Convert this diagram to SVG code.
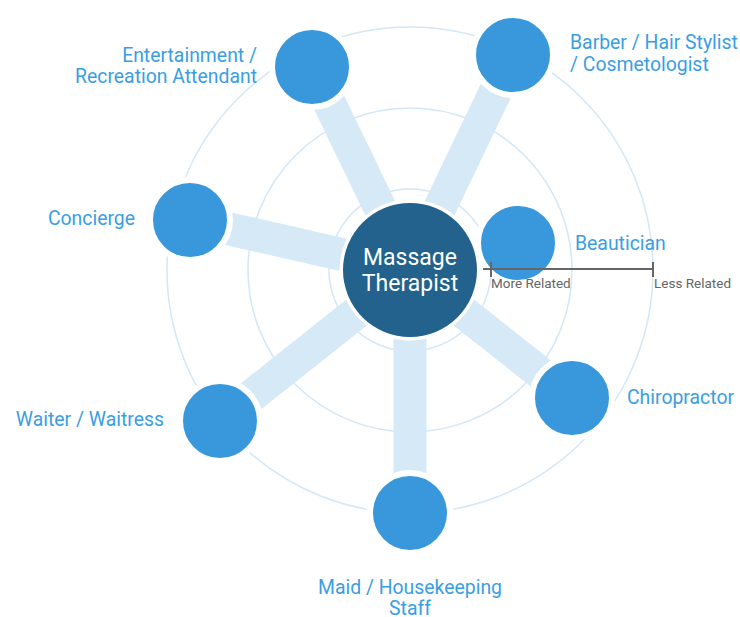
<svg xmlns="http://www.w3.org/2000/svg" width="740" height="617" viewBox="0 0 740 617">
<style>
.ring{fill:none;stroke:#d3e7f7;stroke-width:1.5}
.bar{stroke:#d6e9f7;stroke-width:33;stroke-linecap:butt}
.node{fill:#3898db;stroke:#fff;stroke-width:6}
.lbl{font-family:Roboto,"Liberation Sans",sans-serif;font-size:19.4px;fill:#3a9ee2}
.ctr{font-family:Roboto,"Liberation Sans",sans-serif;font-size:23px;fill:#fff;text-anchor:middle}
.scale{font-family:Roboto,"Liberation Sans",sans-serif;font-size:13.5px;fill:#666}
</style>
<rect width="740" height="617" fill="#fff"/>
<g id="rings">
<circle class="ring" cx="410" cy="270" r="243"/>
<circle class="ring" cx="410" cy="270" r="162"/>
<circle class="ring" cx="410" cy="270" r="81"/>
</g>
<g id="connectors">
<line class="bar" x1="410" y1="270" x2="312" y2="67"/>
<line class="bar" x1="410" y1="270" x2="513" y2="55"/>
<line class="bar" x1="410" y1="270" x2="190" y2="220"/>
<line class="bar" x1="410" y1="270" x2="572" y2="398"/>
<line class="bar" x1="410" y1="270" x2="410" y2="513"/>
<line class="bar" x1="410" y1="270" x2="220" y2="421"/>
</g>
<g id="center">
<circle cx="410" cy="270" r="70.5" fill="#fff"/>
<circle cx="410" cy="270" r="67" fill="#22628c"/>
<text class="ctr" x="410" y="265">Massage</text>
<text class="ctr" x="410" y="291">Therapist</text>
</g>
<g id="entertainment">
<circle class="node" cx="312" cy="67" r="40"/>
<text class="lbl" text-anchor="end" x="257" y="62">Entertainment /</text>
<text class="lbl" text-anchor="end" x="257" y="83">Recreation Attendant</text>
</g>
<g id="barber">
<circle class="node" cx="513" cy="55" r="40"/>
<text class="lbl" x="570" y="49">Barber / Hair Stylist</text>
<text class="lbl" x="570" y="71">/ Cosmetologist</text>
</g>
<g id="concierge">
<circle class="node" cx="190" cy="220" r="40"/>
<text class="lbl" text-anchor="end" x="135" y="225">Concierge</text>
</g>
<g id="beautician">
<circle class="node" cx="518" cy="243" r="40"/>
<text class="lbl" x="575" y="250">Beautician</text>
</g>
<g id="chiropractor">
<circle class="node" cx="572" cy="398" r="40"/>
<text class="lbl" x="627" y="404">Chiropractor</text>
</g>
<g id="maid">
<circle class="node" cx="410" cy="513" r="40"/>
<text class="lbl" text-anchor="middle" x="410" y="594">Maid / Housekeeping</text>
<text class="lbl" text-anchor="middle" x="410" y="615">Staff</text>
</g>
<g id="waiter">
<circle class="node" cx="220" cy="421" r="40"/>
<text class="lbl" text-anchor="end" x="164" y="426">Waiter / Waitress</text>
</g>
<g id="scale">
<path d="M483 269H653M491 262V277M653 262V277" fill="none" stroke="#666" stroke-width="2"/>
<text class="scale" x="491" y="288">More Related</text>
<text class="scale" x="654" y="288">Less Related</text>
</g>
</svg>
